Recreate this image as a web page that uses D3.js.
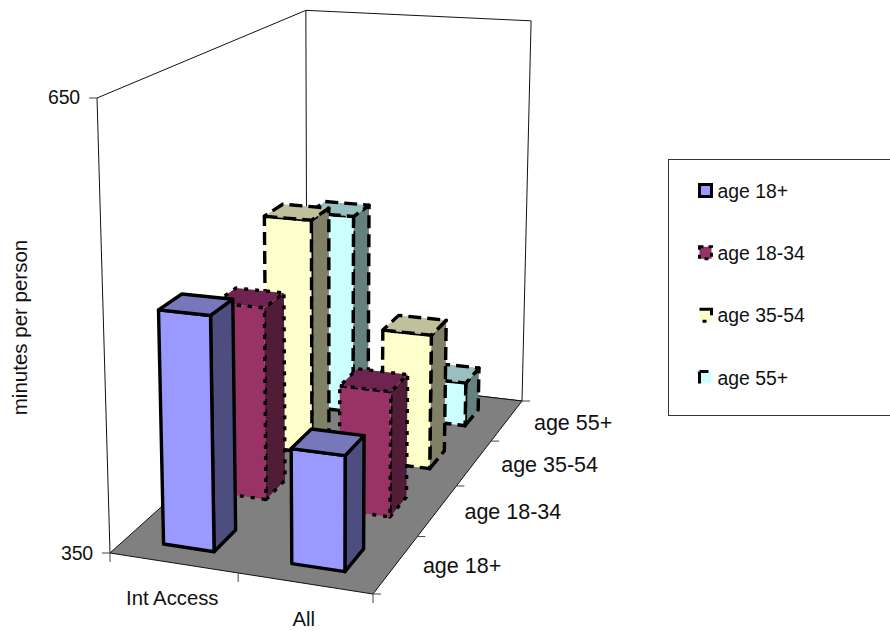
<!DOCTYPE html>
<html>
<head>
<meta charset="utf-8">
<script src="https://cdn.jsdelivr.net/npm/d3@7/dist/d3.min.js"></script>
<style>
html,body{margin:0;padding:0;background:#fff;overflow:hidden}
text{font-family:"Liberation Sans",Arial,sans-serif;fill:#111}
</style>
</head>
<body>
<svg id="chart" width="890" height="631"></svg>
<script>
// Viewing time by medium and age group
const categories = ["Int Access", "All"];
const seriesNames = ["age 18+", "age 18-34", "age 35-54", "age 55+"];
const intAccessValues = [510, 488, 526, 506];
const allValues = [428, 439, 450, 384];
const valueTicks = [350, 650];
const valuesByCategory = [intAccessValues, allValues];

const faceColors = [
  {front: "#9999ff", top: "#7777bb", side: "#4d4d80"},
  {front: "#993366", top: "#6e2350", side: "#501c38"},
  {front: "#ffffcc", top: "#c0c09a", side: "#808066"},
  {front: "#ccffff", top: "#99c0c0", side: "#668080"}
];
const dashes = [null, "4,7", "13,6", "13,6"];
const legendDashes = [null, "4,5", "18,11,4,15", "9,27,12,0"];

// Homography of the unit floor square onto the screen
const corners = {p00: [110, 553], p10: [373, 594], p11: [522, 401], p01: [307, 376]};
function floorMatrix({p00, p10, p11, p01}) {
  const dx1 = p10[0] - p11[0], dx2 = p01[0] - p11[0], sx = p00[0] - p10[0] + p11[0] - p01[0];
  const dy1 = p10[1] - p11[1], dy2 = p01[1] - p11[1], sy = p00[1] - p10[1] + p11[1] - p01[1];
  const den = dx1 * dy2 - dx2 * dy1;
  const g = (sx * dy2 - dx2 * sy) / den, h = (dx1 * sy - sx * dy1) / den;
  return [
    [p10[0] - p00[0] + g * p10[0], p01[0] - p00[0] + h * p01[0], p00[0]],
    [p10[1] - p00[1] + g * p10[1], p01[1] - p00[1] + h * p01[1], p00[1]],
    [g, h, 1]
  ];
}
const H = floorMatrix(corners);
// Uprights converge on a distant vanishing point below the plot
const vanish = [332, 8340];
const lift = (98 - corners.p00[1]) / (vanish[1] - 98);

function project(x, y, z) {
  const w = H[2][0] * x + H[2][1] * y + H[2][2] + z * lift;
  return [
    (H[0][0] * x + H[0][1] * y + H[0][2] + z * lift * vanish[0]) / w,
    (H[1][0] * x + H[1][1] * y + H[1][2] + z * lift * vanish[1]) / w
  ];
}

const zScale = d3.scaleLinear().domain([350, 650]).range([0, 1]);
const xBand = d3.scaleBand().domain(categories).range([0, 1]).paddingInner(0.6).paddingOuter(0.3);
const yBand = d3.scaleBand().domain(seriesNames).range([-0.008, 0.992]).paddingInner(0.6).paddingOuter(0.3);

const svg = d3.select("#chart");
const line = d3.line();
const closed = pts => line(pts) + "Z";

// Walls
const wallPaths = [
  [[0, 0, 0], [0, 0, 1], [0, 1, 1], [1, 1, 1], [1, 1, 0]],
  [[0, 1, 1], [0, 1, 0], [1, 1, 0]]
];
svg.append("g").selectAll("path").data(wallPaths).join("path")
  .attr("d", d => line(d.map(p => project(...p))))
  .attr("fill", "none").attr("stroke", "#111").attr("stroke-width", 1);

// Floor
svg.append("path")
  .attr("d", closed([[0, 0], [1, 0], [1, 1], [0, 1]].map(p => project(p[0], p[1], 0))))
  .attr("fill", "#808080").attr("stroke", "#111").attr("stroke-width", 1);

// Value axis
const valueAxis = svg.append("g");
valueTicks.forEach(v => {
  const [px, py] = project(0, 0, zScale(v));
  valueAxis.append("line").attr("x1", px - 8).attr("x2", px).attr("y1", py).attr("y2", py)
    .attr("stroke", "#444");
  valueAxis.append("text").attr("x", px - 17).attr("y", py + (v === 650 ? 6 : 7))
    .attr("text-anchor", "end").attr("font-size", 19.5).attr("letter-spacing", -0.2).text(v);
});
svg.append("text")
  .attr("transform", "translate(27,327.5) rotate(-90)")
  .attr("text-anchor", "middle").attr("font-size", 20.5)
  .text("minutes per person");

// Category axis
[0, 0.5, 1].forEach(t => {
  const [px, py] = project(t, 0, 0);
  svg.append("line").attr("x1", px).attr("x2", px).attr("y1", py).attr("y2", py + 9).attr("stroke", "#444");
});
categories.forEach((c, i) => {
  const [px, py] = project(i * 0.5 + 0.25, 0, 0);
  svg.append("text").attr("x", px - 1).attr("y", py + 42.5).attr("text-anchor", "middle")
    .attr("font-size", 20.3).text(c);
});

// Depth axis
[0, 0.25, 0.5, 0.75, 1].forEach(t => {
  const [px, py] = project(1, t, 0);
  svg.append("line").attr("x1", px).attr("x2", px + 8).attr("y1", py).attr("y2", py).attr("stroke", "#444");
});
seriesNames.forEach((s, i) => {
  const [px, py] = project(1, (i + 0.5) / 4, 0);
  svg.append("text").attr("x", px + 27).attr("y", py + 9)
    .attr("font-size", 21.5).text(s);
});

// Bars, painted from the back row forward
function drawBar(g, cat, iSeries, value) {
  const x0 = xBand(cat), x1 = x0 + xBand.bandwidth();
  const y0 = yBand(seriesNames[iSeries]), y1 = y0 + yBand.bandwidth();
  const z = zScale(value);
  const c = faceColors[iSeries];
  const faces = [
    {fill: c.side, pts: [[x1, y0, 0], [x1, y1, 0], [x1, y1, z], [x1, y0, z]]},
    {fill: c.front, pts: [[x0, y0, 0], [x1, y0, 0], [x1, y0, z], [x0, y0, z]]},
    {fill: c.top, pts: [[x0, y0, z], [x1, y0, z], [x1, y1, z], [x0, y1, z]]}
  ];
  g.selectAll("path").data(faces).join("path")
    .attr("d", d => closed(d.pts.map(p => project(...p))))
    .attr("fill", d => d.fill)
    .attr("stroke", "#000").attr("stroke-width", 3.4).attr("stroke-linejoin", "round")
    .attr("stroke-dasharray", dashes[iSeries]);
}
const barLayer = svg.append("g");
d3.range(seriesNames.length - 1, -1, -1).forEach(iSeries => {
  categories.forEach((cat, iCat) => {
    drawBar(barLayer.append("g"), cat, iSeries, valuesByCategory[iCat][iSeries]);
  });
});

// Legend
const legend = svg.append("g");
legend.append("rect").attr("x", 668.5).attr("y", 159.5).attr("width", 240).attr("height", 256)
  .attr("fill", "#fff").attr("stroke", "#333");
const legendY = d3.scalePoint().domain(seriesNames).range([191, 378]);
seriesNames.forEach((s, i) => {
  const cy = legendY(s);
  legend.append("rect").attr("x", 699.5).attr("y", cy - 6.5).attr("width", 12).attr("height", 12)
    .attr("fill", faceColors[i].front).attr("stroke", "#000").attr("stroke-width", 3)
    .attr("stroke-dasharray", legendDashes[i]);
  legend.append("text").attr("x", 717.5).attr("y", cy + 6.5).attr("font-size", 19.4).text(s);
});
</script>
</body>
</html>
